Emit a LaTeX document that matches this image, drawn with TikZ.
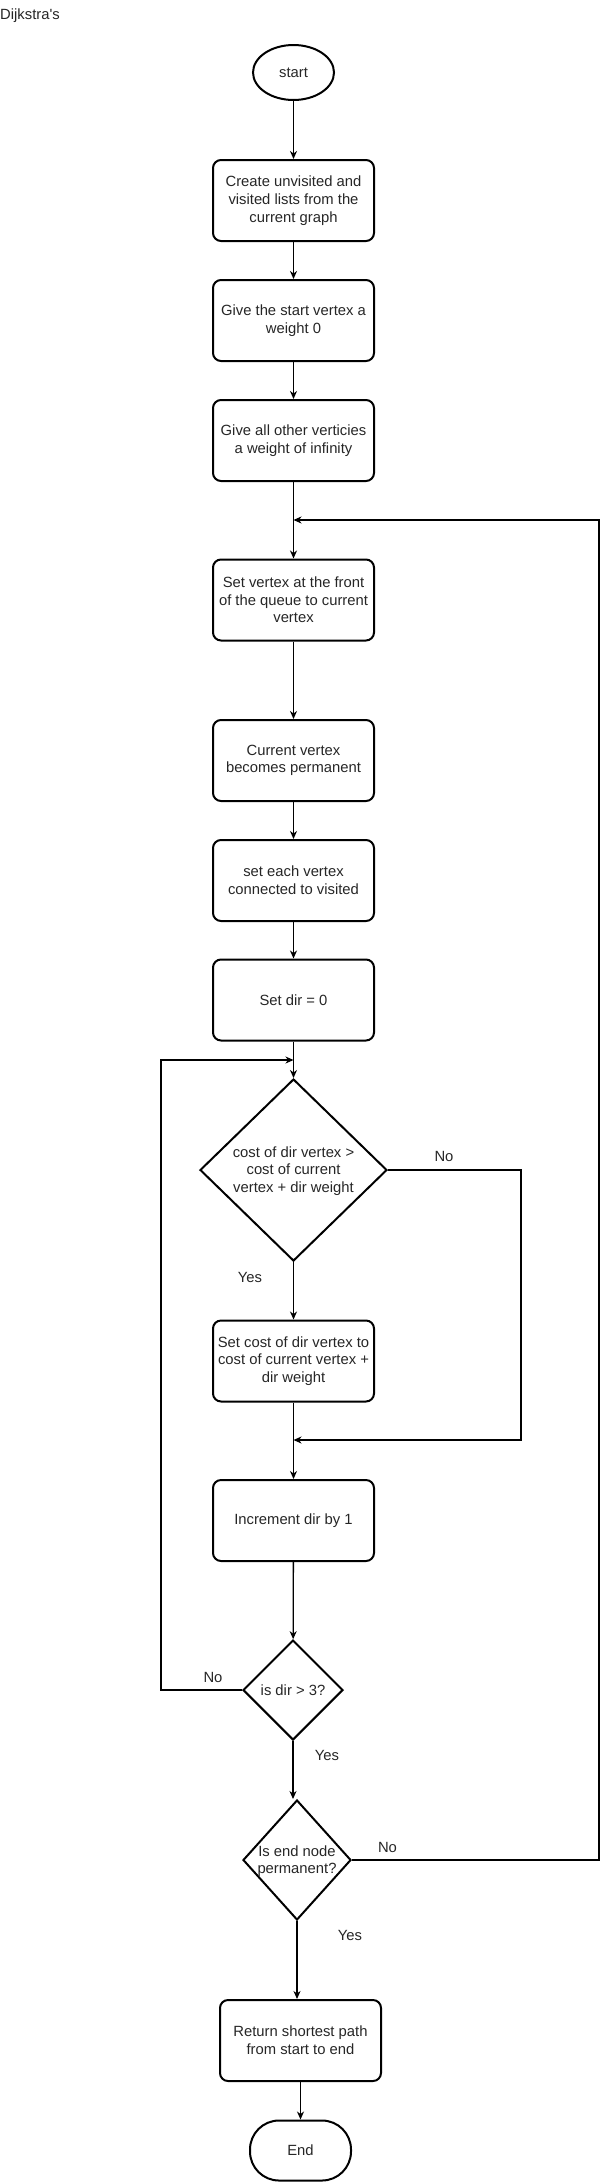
\documentclass[tikz,border=0pt]{standalone}
\usepackage{fontspec}
\setmainfont{Liberation Sans}[Ligatures=TeXOff]
\usetikzlibrary{shapes.geometric,arrows.meta}
\begin{document}
\begin{tikzpicture}[x=1pt,y=-1pt,
  every node/.style={font=\fontsize{14.8}{17.7}\selectfont, inner sep=0pt, text=black!85},
  proc/.style={draw, line width=2pt, rounded corners=8pt, minimum width=161pt, minimum height=81pt, align=center},
  dia/.style={draw, diamond, line width=2pt},
  txt/.style={align=center},
  arr/.style={line width=1.3pt, -{Stealth[length=8pt,width=7pt,inset=2.5pt]}}]
\useasboundingbox (0,0) rectangle (610,2182);

\node[anchor=west] (title) at (0,16) {Dijkstra's};

\node[draw, ellipse, line width=2pt, minimum width=81pt, minimum height=55pt] (start) at (293.5,72.5) {start};
\node[proc] (b1) at (293.5,200.5) {Create unvisited and\\visited lists from the\\current graph};
\node[proc] (b2) at (293.5,320.5) {Give the start vertex a\\weight 0};
\node[proc] (b3) at (293.5,440.5) {Give all other verticies\\a weight of infinity};
\node[proc] (b4) at (293.5,600) {Set vertex at the front\\of the queue to current\\vertex};
\node[proc] (b5) at (293.5,760.5) {Current vertex\\becomes permanent};
\node[proc] (b6) at (293.5,880.5) {set each vertex\\connected to visited};
\node[proc] (b7) at (293.5,1000) {Set dir = 0};

\node[dia, minimum width=187pt, minimum height=182pt] (d1) at (293.5,1170) {};
\node[txt] (d1t) at (293.5,1171) {cost of dir vertex >\\cost of current\\vertex + dir weight};

\node[proc] (b8) at (293.5,1361) {Set cost of dir vertex to\\cost of current vertex +\\dir weight};
\node[proc] (b9) at (293.5,1520.5) {Increment dir by 1};

\node[dia, minimum width=100pt, minimum height=100pt] (d2) at (293,1690) {};
\node[txt] (d2t) at (293,1690) {is dir > 3?};

\node[dia, minimum width=108pt, minimum height=120pt] (d3) at (297,1860) {};
\node[txt] (d3t) at (297,1861) {Is end node\\permanent?};

\node[proc] (b10) at (300.5,2040.5) {Return shortest path\\from start to end};
\node[draw, line width=2pt, rounded corners=29pt, minimum width=101pt, minimum height=60pt] (end) at (300.5,2150.5) {End};

\coordinate (j1) at (293.5,520);
\coordinate (j2) at (293.5,1060);
\coordinate (j3) at (293.5,1440);
\coordinate (c1) at (521,1170);
\coordinate (c2) at (161,1690);
\coordinate (c3) at (599,1860);

\draw[arr] (start) -- (b1);
\draw[arr] (b1) -- (b2);
\draw[arr] (b2) -- (b3);
\draw[arr] (b3) -- (b4);
\draw[arr] (b4) -- (b5);
\draw[arr] (b5) -- (b6);
\draw[arr] (b6) -- (b7);
\draw[arr] (b7) -- (d1);
\draw[arr] (d1) -- (b8);
\draw[arr] (b8) -- (b9);
\draw[arr] (b9) -- (d2);
\draw[arr] (d2.south) -- (d2.south |- d3.north);
\draw[arr] (d3.south) -- (d3.south |- b10.north);
\draw[arr] (b10) -- (end);

\draw[arr] (d1.east) -- (c1) |- (j3);
\draw[arr] (d2.west) -- (c2) |- (j2);
\draw[arr] (d3.east) -- (c3) |- (j1);

\node (no1) at (444,1156) {No};
\node (yes1) at (250,1277) {Yes};
\node (no2) at (213,1677) {No};
\node (yes2) at (327,1755) {Yes};
\node (no3) at (387.5,1847) {No};
\node (yes3) at (350,1935) {Yes};
\end{tikzpicture}
\end{document}
